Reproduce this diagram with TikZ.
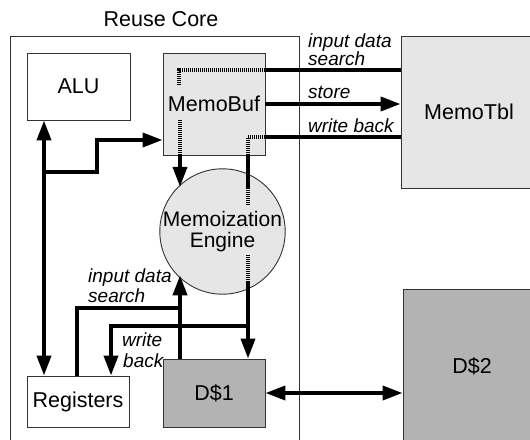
\documentclass[tikz,border=0pt]{standalone}
\usepackage{fontspec}
\setmainfont{Liberation Sans}
\usetikzlibrary{arrows.meta}
\definecolor{lightfill}{HTML}{E6E6E6}
\definecolor{darkfill}{HTML}{B3B3B3}
\definecolor{edge}{HTML}{333333}
\begin{document}
\begin{tikzpicture}[x=1pt,y=-1pt,
  unit/.style={draw=edge, line width=0.9pt, inner sep=0pt, font=\fontsize{21.5}{21}\selectfont},
  plain/.style={unit, fill=white},
  light/.style={unit, fill=lightfill},
  dark/.style={unit, fill=darkfill},
  tag/.style={font=\fontsize{19}{20}\selectfont\itshape, inner sep=0pt, anchor=base west},
  bus/.style={line width=3.8pt},
  thinbus/.style={line width=3.2pt},
  dots/.style={line width=3.2pt, dash pattern=on 1.1pt off 0.9pt},
  tip/.style={-{Triangle[length=20pt,width=14pt]}},
  tips/.style={{Triangle[length=20pt,width=14pt]}-{Triangle[length=20pt,width=14pt]}}]
\useasboundingbox (0,0) rectangle (530,439);

% enclosing core frame and its title
\draw[edge, line width=0.9pt] (10,450) -- (10,36) -- (299,36) -- (299,450);
\node[font=\fontsize{21.5}{21}\selectfont, inner sep=0pt, anchor=base] (title) at (161,27) {Reuse Core};

% units
\node[plain, minimum width=103pt, minimum height=67pt] (alu) at (78.5,86.5) {ALU};
\node[light, minimum width=102pt, minimum height=102pt] (mb) at (214,104) {MemoBuf};
\node[light, minimum width=136pt, minimum height=152pt] (mt) at (469,112) {MemoTbl};
\node[plain, minimum width=102pt, minimum height=51pt] (regs) at (78,401.5) {Registers};
\node[dark, minimum width=102pt, minimum height=68pt] (d1) at (214,393) {D\$1};
\node[dark, minimum width=138pt, minimum height=154pt] (d2) at (472,366) {D\$2};
\node[light, circle, minimum size=119pt, align=center,
      font=\fontsize{21}{20.5}\selectfont] (eng) at (222.5,231.5) {Memoization\\Engine};

% lane positions
\coordinate (busx) at (44,0);
\coordinate (mbx) at (180,0);
\coordinate (wbx) at (248,0);
\coordinate (rgx) at (77,0);
\coordinate (wrx) at (111,0);
\coordinate (ys) at (0,70);
\coordinate (yw) at (0,137);
\coordinate (split) at (44,172);
\coordinate (jog) at (97,172);
\coordinate (fork) at (248,326);
\coordinate (join) at (180,308);

% ALU <-> Registers, with a branch into MemoBuf
\draw[bus, tips] (alu.south -| busx) -- (regs.north -| busx);
\draw[bus, tip] (split) -- (jog) -- (97,140) -- (mb.west |- 0,140);

% MemoBuf <-> MemoTbl
\draw[dots] (179,85) -- (179,70) -- (mb.east |- ys);
\draw[bus] (mb.east |- ys) -- (mt.west |- ys);
\draw[bus, tip] (mb.east) -- (mb.east -| mt.west);
\draw[bus] (mt.west |- yw) -- (mb.east |- yw);
\draw[dots] (mb.east |- yw) -- (wbx |- yw) -- (mb.south -| wbx);

% MemoBuf -> Memoization Engine
\draw[dots] (180,120) -- (mb.south -| mbx);
\draw[bus, tip] (mb.south -| mbx) -- (eng.135.6 -| mbx);

% write back path through the engine down to D$1 and Registers
\draw[bus] (mb.south -| wbx) -- (248,188);
\draw[dots] (248,188) -- (248,205);
\draw[dots] (248,255) -- (248,281);
\draw[bus, tip] (248,281) -- (d1.north -| wbx);
\draw[bus, tip] (fork) -- (wrx |- fork) -- (regs.north -| wrx);

% input data search from D$1 and Registers
\draw[bus, tip] (d1.north -| mbx) -- (eng.224.4 -| mbx);
\draw[thinbus] (regs.north -| rgx) -- (rgx |- join) -- (join);

% D$1 <-> D$2
\draw[bus, tips] (d1.east) -- (d1.east -| d2.west);

% connector labels
\node[tag] (l1) at (308,47) {input data};
\node[tag] (l2) at (308,65) {search};
\node[tag] (l3) at (308,98) {store};
\node[tag] (l4) at (308,132) {write back};
\node[tag] (l5) at (88,282) {input data};
\node[tag] (l6) at (88,302) {search};
\node[tag] (l7) at (122,346) {write};
\node[tag] (l8) at (123,367) {back};
\end{tikzpicture}
\end{document}
